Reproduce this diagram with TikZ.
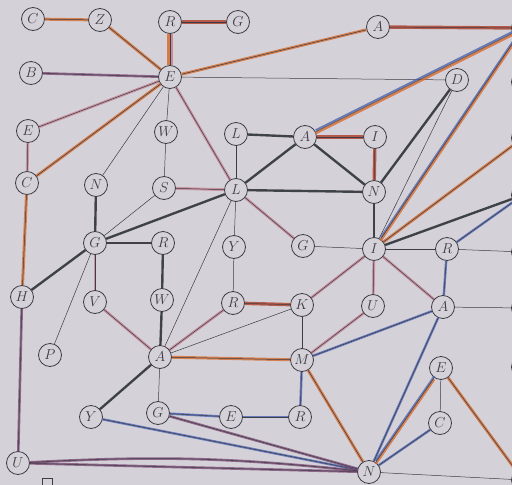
\documentclass[tikz,border=0pt]{standalone}
\definecolor{paper}{RGB}{212,210,216}
\definecolor{ink}{RGB}{62,60,68}
\definecolor{orng}{RGB}{214,108,48}
\definecolor{pnk}{RGB}{196,122,140}
\definecolor{blu}{RGB}{66,92,176}
\definecolor{drk}{RGB}{40,46,52}
\definecolor{prp}{RGB}{118,68,112}
\definecolor{brn}{RGB}{176,70,50}
\begin{document}
\begin{tikzpicture}[x=1pt,y=-1pt,font=\Large,
  v/.style={circle,draw=ink,line width=.8pt,fill=paper,text=ink,inner sep=0pt,minimum size=23pt},
  base/.style={draw=ink,line width=.5pt},
  org/.style={base,preaction={draw=orng,line width=3pt,opacity=.8}},
  pk/.style={base,preaction={draw=pnk,line width=2.8pt,opacity=.7}},
  rd/.style={base,preaction={draw=brn,line width=3.4pt,opacity=.85}},
  dk/.style={base,preaction={draw=drk,line width=2.4pt,opacity=.85}},
  bl/.style={base,preaction={draw=blu,line width=2.4pt,opacity=.75}},
  pr/.style={base,preaction={draw=prp,line width=2.6pt,opacity=.75}},
  ob/.style={base,preaction={draw=blu,line width=1.8pt,opacity=.75,transform canvas={yshift=1.6pt}},
    preaction={draw=orng,line width=2.4pt,opacity=.8,transform canvas={yshift=-1.6pt}}},
  op/.style={base,preaction={draw=pnk,line width=1.8pt,opacity=.8,transform canvas={xshift=1.6pt}},
    preaction={draw=orng,line width=2.4pt,opacity=.85,transform canvas={xshift=-1.6pt}}}]
  \useasboundingbox (0,0) rectangle (512,485);
  \clip (0,0) rectangle (512,485);
  \fill[paper] (0,0) rectangle (512,485);
  % top rows
  \node[v] (C1) at (33,19) {$C$};
  \node[v] (Z) at (100,20) {$Z$};
  \node[v] (R1) at (170,22) {$R$};
  \node[v] (G1) at (238,22) {$G$};
  \node[v] (A1) at (378,27) {$A$};
  \node[v] (B) at (31,73) {$B$};
  \node[v] (E1) at (170,77) {$E$};
  \node[v] (D) at (457,80) {$D$};
  \node[v] (E2) at (28,131) {$E$};
  \node[v] (W1) at (166,132) {$W$};
  \node[v] (L1) at (236,134) {$L$};
  \node[v] (A2) at (305,137) {$A$};
  \node[v] (I1) at (375,137) {$I$};
  \node[v] (C2) at (27,183) {$C$};
  \node[v] (N1) at (96,185) {$N$};
  \node[v] (S) at (164,188) {$S$};
  \node[v] (L2) at (236,190) {$L$};
  \node[v] (N2) at (374,192) {$N$};
  % middle
  \node[v] (G2) at (95,243) {$G$};
  \node[v] (R2) at (163,243) {$R$};
  \node[v] (Y1) at (234,247) {$Y$};
  \node[v] (G3) at (303,246) {$G$};
  \node[v] (I2) at (374,249) {$I$};
  \node[v] (R3) at (447,249) {$R$};
  \node[v] (H) at (22,297) {$H$};
  \node[v] (V) at (95,302) {$V$};
  \node[v] (W2) at (162,300) {$W$};
  \node[v] (R4) at (233,303) {$R$};
  \node[v] (K) at (302,305) {$K$};
  \node[v] (U1) at (373,306) {$U$};
  \node[v] (A3) at (443,307) {$A$};
  % bottom
  \node[v] (P) at (50,355) {$P$};
  \node[v] (A4) at (160,357) {$A$};
  \node[v] (M) at (302,360) {$M$};
  \node[v] (E4) at (441,368) {$E$};
  \node[v] (Y2) at (91,417) {$Y$};
  \node[v] (G4) at (158,413) {$G$};
  \node[v] (E3) at (231,417) {$E$};
  \node[v] (R5) at (300,417) {$R$};
  \node[v] (C3) at (440,423) {$C$};
  \node[v] (U2) at (18,463) {$U$};
  \node[v] (N3) at (369,472) {$N$};
  % nodes cut by the right edge
  \foreach \n/\y in {x1/28,x2/82,x3/138,x4/195,x5/252,x6/308,x7/367,x8/480}
    \node[v] (\n) at (523,\y) {};
  \draw[ink,line width=.6pt] (42,478) rectangle (52,490);
  % connectors
  \foreach \a/\b in {E1/D,E1/N1,E1/W1,W1/S,L1/L2,G2/S,G2/P,A4/L2,L2/Y1,Y1/R4,G3/I2,
      A4/K,K/M,R3/I2,R3/x5,A3/x6,E4/C3,N3/x8,A4/G4,I2/D}
    \draw[base] (\a)--(\b);
  \foreach \a/\b in {C1/Z,Z/E1,E1/A1,E1/C2,I2/x3,A4/M,M/N3,E4/x8,C2/H}
    \draw[org] (\a)--(\b);
  \draw[op] (R1)--(E1);
  \foreach \a/\b in {R1/G1,A1/x1,A2/I1,I1/N2,R4/K}
    \draw[rd] (\a)--(\b);
  \foreach \a/\b in {E1/E2,E2/C2,S/L2,G2/V,V/A4,A4/R4,K/I2,I2/A3,U1/M,I2/U1,E1/L2,L2/G3}
    \draw[pk] (\a)--(\b);
  \foreach \a/\b in {A2/L2,A2/N2,L2/N2,D/N2,G2/L2,G2/H,N1/G2,G2/R2,R2/W2,W2/A4,A4/Y2,
      I2/x4,N2/I2,L1/A2}
    \draw[dk] (\a)--(\b);
  \foreach \a/\b in {x4/R3,R3/A3,A3/M,A3/N3,M/R5,G4/E3,E3/R5,Y2/N3,C3/N3}
    \draw[bl] (\a)--(\b);
  \foreach \a/\b in {B/E1,H/U2,U2/N3,G4/N3}
    \draw[pr] (\a)--(\b);
  \draw[pr] (U2) to[out=3,in=174] (N3);
  \foreach \a/\b in {A2/x1,I2/x1,E4/N3}
    \draw[ob] (\a)--(\b);
\end{tikzpicture}
\end{document}
